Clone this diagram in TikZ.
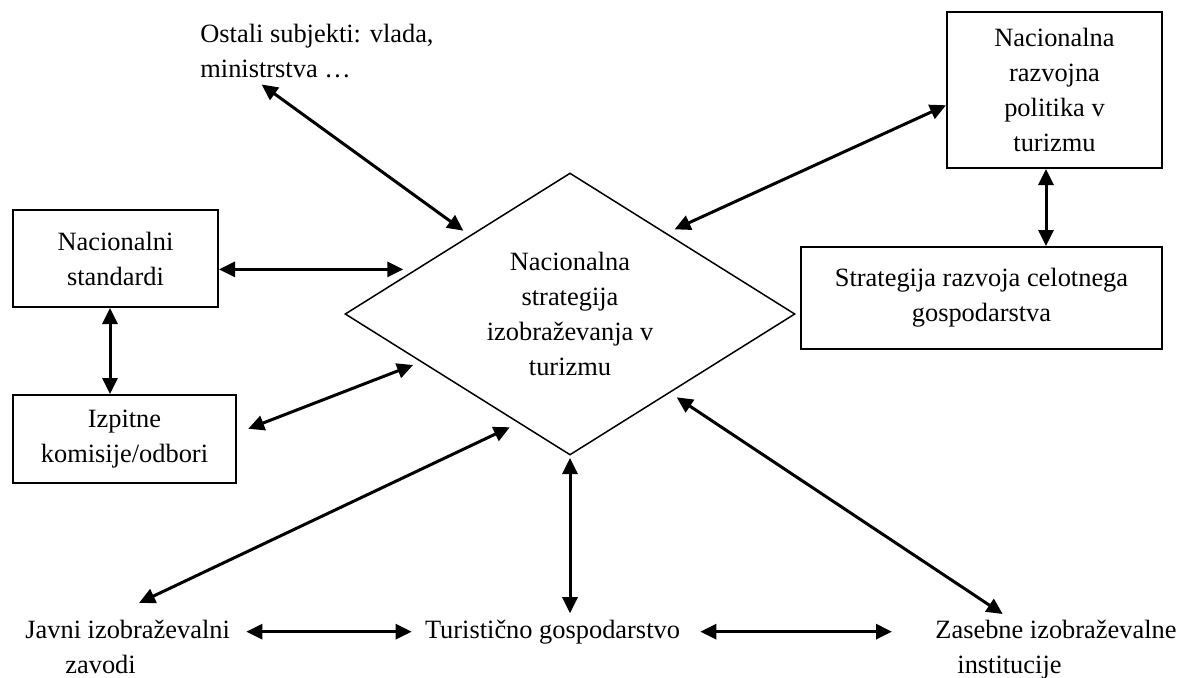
\documentclass[tikz,border=0pt]{standalone}
\usepackage{fontspec}
\setmainfont{Liberation Serif}
\usepackage{tikz}
\usetikzlibrary{arrows.meta}
\usetikzlibrary{shapes.geometric}

\begin{document}
\begin{tikzpicture}[x=0.5pt, y=-0.5pt]

\tikzstyle{every node}=[font=\fontsize{13.2}{17.5}\selectfont, inner sep=3pt]
\tikzstyle{box}=[draw, line width=1pt, align=center]
\tikzstyle{free}=[align=left, anchor=north west]
\tikzstyle{link}=[draw, line width=1.5pt, {Triangle[length=8pt,width=7.5pt]}-{Triangle[length=8pt,width=7.5pt]}]

\useasboundingbox (0,0) rectangle (1183,677);

\node[diamond, draw, line width=0.75pt, minimum width=228pt, minimum height=144pt, shape aspect=1.583, inner sep=0pt, outer sep=4pt, align=center] (strategy) at (570,314) {Nacionalna\\strategija\\izobraževanja v\\turizmu};

\node[box, minimum width=102.5pt, minimum height=48.5pt] (standards) at (115.5,258.5) {Nacionalni\\standardi};
\node[box, minimum width=111.5pt, minimum height=44pt] (exams) at (124.5,439) {Izpitne\\komisije/odbori};
\node[box, minimum width=107.5pt, minimum height=78pt] (policy) at (1054.5,90) {Nacionalna\\razvojna\\politika v\\turizmu};
\node[box, minimum width=180.5pt, minimum height=51pt] (economy) at (981.5,298) {Strategija razvoja celotnega\\gospodarstva};

\node[free] (others) at (194,18) {Ostali subjekti: vlada,\\ministrstva …};
\node[free] (public) at (19,614) {Javni izobraževalni\\\hspace*{20pt}zavodi};
\node[anchor=base] (tourism) at (552.5,638) {Turistično gospodarstvo};
\node[free] (private) at (929,614) {Zasebne izobraževalne\\\hspace*{11pt}institucije};

\path[link] (others.211) -- (strategy.142.5);
\path[link] (standards.354) -- (strategy.165 |- standards.354);
\path[link, shorten <=6pt] (exams.3) -- (strategy.198);
\path[link, shorten <=13pt] (public.110) -- (strategy.242);
\path[link, shorten >=-4pt] (tourism.north -| strategy.south) -- (strategy.south);
\path[link] (strategy.322) -- (private.146);
\path[link] (policy.188) -- (strategy.39);

\path[link] ([xshift=-4.25pt]policy.south) -- ([xshift=-4.25pt]policy.south |- economy.north);
\path[link] ([xshift=-2.75pt]standards.south) -- ([xshift=-2.75pt]standards.south |- exams.north);

\path[link, shorten <=5pt, shorten >=3.5pt] (public.east |- tourism.west) -- (tourism.west);
\path[link, shorten <=7pt, shorten >=18.5pt] (tourism.east) -- (tourism.east -| private.west);

\end{tikzpicture}
\end{document}
